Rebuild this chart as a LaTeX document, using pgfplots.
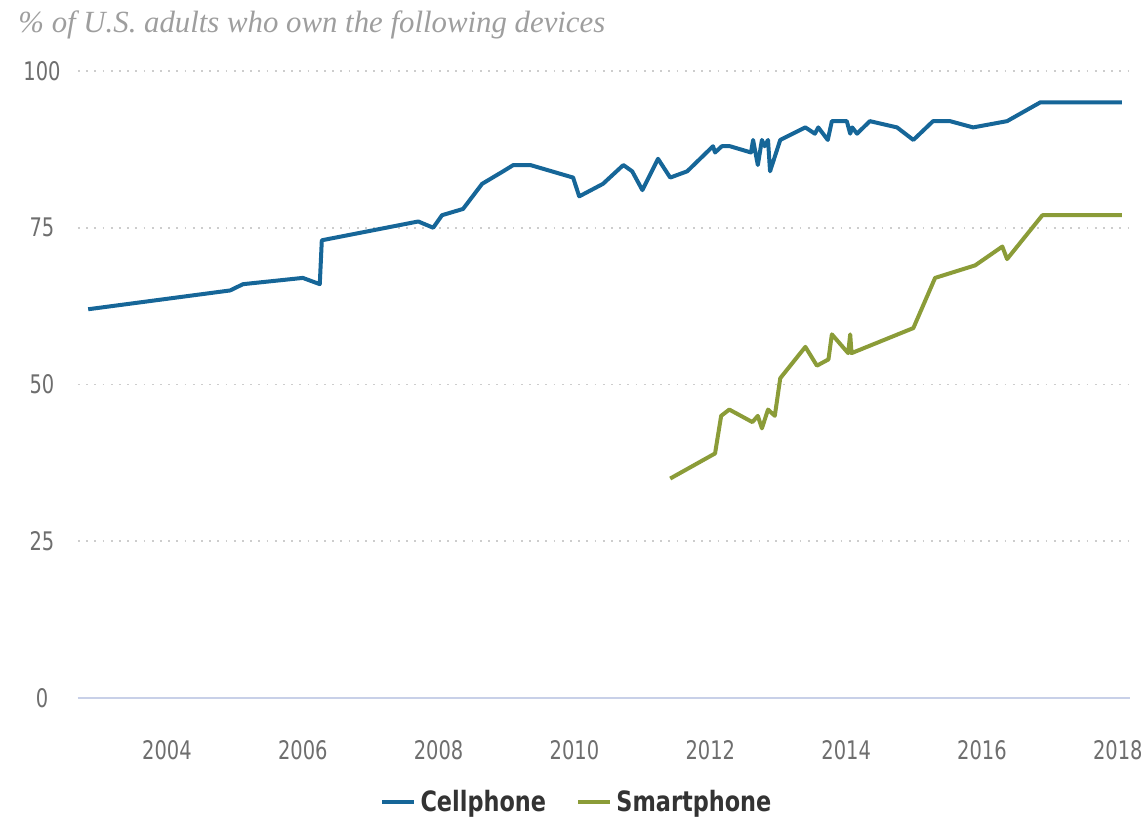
\documentclass[border=0pt]{standalone}
\usepackage{fontspec}
\usepackage{pgfplots}
\pgfplotsset{compat=1.18}
\newfontfamily\condfont{DejaVu Sans}[FakeStretch=0.76]
\newfontfamily\legfont{DejaVu Sans}[FakeStretch=0.8]
\newfontfamily\titlefont{Liberation Serif}
\definecolor{cellblue}{RGB}{22,102,152}
\definecolor{smartgreen}{RGB}{139,156,56}
\definecolor{tickgray}{RGB}{110,110,110}
\definecolor{gridgray}{RGB}{205,205,205}
\definecolor{zeroline}{RGB}{200,208,232}
\begin{document}
\begin{tikzpicture}
\path[use as bounding box] (0,0) rectangle (570.5pt,409pt);
\begin{axis}[
  at={(39pt,60pt)}, anchor=south west,
  width=526pt, height=313.5pt, scale only axis,
  xmin=2002.69, xmax=2018.18,
  ymin=0, ymax=100,
  xtick={2004,2006,...,2018},
  ytick={0,25,50,75,100},
  axis x line*=bottom, axis y line*=left,
  x axis line style={-, draw=zeroline, line width=1pt},
  y axis line style={draw=none},
  major tick length=0pt,
  ymajorgrids,
  grid style={draw=gridgray, line width=0.9pt, dash pattern=on 0.9pt off 3.2pt},
  /pgf/number format/assume math mode=true,
  /pgf/number format/1000 sep={},
  tick label style={font=\condfont\fontsize{12.8}{14}\selectfont, text=tickgray},
  xticklabel style={anchor=north, yshift=-17.5pt},
  yticklabel style={anchor=center, xshift=-18pt},
  legend style={at={(0.475,-0.166)}, anchor=center, legend columns=2, draw=none,
    font=\legfont\bfseries\fontsize{14}{16}\selectfont, text=black!80,
    /tikz/every even column/.append style={column sep=13pt}},
  legend image code/.code={\draw[#1, line width=2.2pt] (0pt,0pt) -- (16pt,0pt);},
  clip=false,
]
\addplot[cellblue, line width=2pt, line join=round] coordinates {
(2002.84,62) (2004.93,65) (2005.12,66) (2006.00,67) (2006.25,66) (2006.28,73)
(2007.70,76) (2007.92,75) (2008.05,77) (2008.36,78) (2008.64,82) (2008.95,84)
(2009.10,85) (2009.35,85) (2009.98,83) (2010.07,80) (2010.42,82) (2010.72,85)
(2010.85,84) (2011.00,81) (2011.23,86) (2011.41,83) (2011.66,84) (2012.04,88)
(2012.07,87) (2012.17,88) (2012.29,88) (2012.60,87) (2012.63,89) (2012.70,85)
(2012.76,89) (2012.80,88) (2012.85,89) (2012.88,84) (2013.03,89) (2013.40,91)
(2013.54,90) (2013.59,91) (2013.73,89) (2013.79,92) (2014.01,92) (2014.06,90)
(2014.09,91) (2014.16,90) (2014.35,92) (2014.75,91) (2014.99,89) (2015.28,92)
(2015.53,92) (2015.87,91) (2016.37,92) (2016.86,95) (2018.06,95)
};
\addlegendentry{Cellphone}
\addplot[smartgreen, line width=2pt, line join=round] coordinates {
(2011.41,35) (2012.07,39) (2012.16,45) (2012.28,46) (2012.62,44) (2012.70,45)
(2012.76,43) (2012.85,46) (2012.95,45) (2013.03,51) (2013.40,56) (2013.57,53)
(2013.74,54) (2013.79,58) (2014.03,55) (2014.06,58) (2014.08,55) (2014.99,59)
(2015.31,67) (2015.90,69) (2016.30,72) (2016.37,70) (2016.89,77) (2018.06,77)
};
\addlegendentry{Smartphone}
\node[anchor=base west, font=\titlefont\itshape\fontsize{15.4}{17}\selectfont, text=black!38, inner sep=0pt]
  at ([shift={(-30pt,19pt)}]rel axis cs:0,1) {\% of U.S. adults who own the following devices};
\end{axis}
\end{tikzpicture}
\end{document}
